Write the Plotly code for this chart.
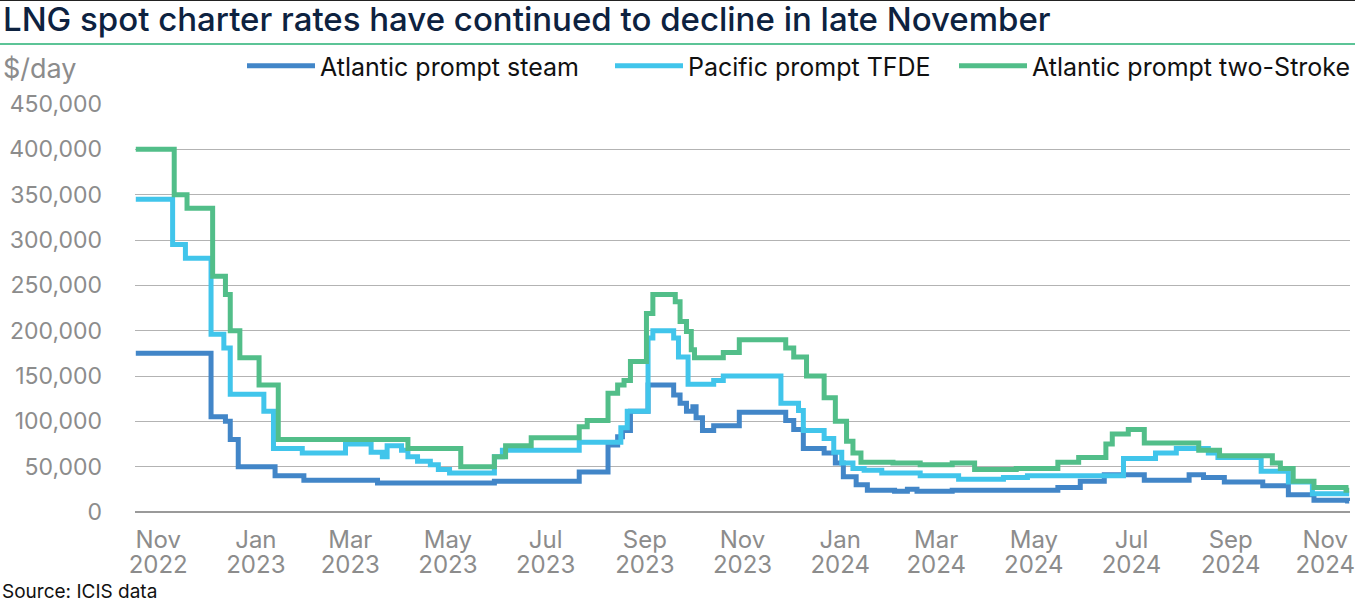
import plotly.graph_objects as go

# ---------------- data ----------------
steam_dates = ["2022-11-01", "2022-12-18", "2022-12-27", "2022-12-30", "2023-01-04", "2023-01-27",
               "2023-02-14", "2023-04-01", "2023-06-13", "2023-08-05", "2023-08-23", "2023-08-29",
               "2023-09-01", "2023-09-06", "2023-09-17", "2023-10-03", "2023-10-07", "2023-10-11",
               "2023-10-15", "2023-10-17", "2023-10-21", "2023-10-28", "2023-11-13", "2023-12-12",
               "2023-12-17", "2023-12-23", "2024-01-05", "2024-01-12", "2024-01-17", "2024-01-25",
               "2024-02-01", "2024-02-18", "2024-02-26", "2024-03-03", "2024-03-25", "2024-05-30",
               "2024-06-13", "2024-06-28", "2024-07-23", "2024-08-20", "2024-08-29", "2024-09-11",
               "2024-10-05", "2024-10-21", "2024-11-06", "2024-11-27", "2024-11-28"]
steam_vals = [175000, 105000, 100000, 80000, 50000, 40000,
              35000, 32000, 34000, 44000, 74000, 83000,
              90000, 111000, 140000, 129000, 120000, 111000,
              116000, 104000, 90000, 95000, 110000, 101000,
              91000, 70000, 65000, 54000, 39000, 30000,
              24000, 23000, 25000, 23000, 24000, 27000,
              34000, 41000, 35000, 41000, 38000, 33000,
              29000, 19000, 13000, 12000, 12000]

tfde_dates = ["2022-11-01", "2022-11-24", "2022-12-02", "2022-12-18", "2022-12-26", "2022-12-30",
              "2023-01-20", "2023-01-26", "2023-02-13", "2023-03-12", "2023-03-28", "2023-04-04",
              "2023-04-07", "2023-04-16", "2023-04-20", "2023-04-26", "2023-05-04", "2023-05-09",
              "2023-05-16", "2023-06-13", "2023-06-18", "2023-08-05", "2023-08-31", "2023-09-04",
              "2023-09-17", "2023-09-20", "2023-10-03", "2023-10-06", "2023-10-12", "2023-10-28",
              "2023-11-03", "2023-12-09", "2023-12-20", "2023-12-23", "2024-01-05", "2024-01-11",
              "2024-01-16", "2024-01-23", "2024-01-30", "2024-02-10", "2024-03-05", "2024-03-29",
              "2024-04-26", "2024-05-11", "2024-07-10", "2024-07-30", "2024-08-12", "2024-09-01",
              "2024-09-07", "2024-10-04", "2024-10-21", "2024-11-05", "2024-11-28"]
tfde_vals = [345000, 295000, 280000, 196000, 181000, 130000,
             111000, 70000, 65000, 75000, 66000, 61000,
             73000, 68000, 61000, 56000, 52000, 47000,
             43000, 61000, 68000, 77000, 93000, 111000,
             192000, 200000, 192000, 171000, 141000, 145000,
             150000, 120000, 112000, 90000, 81000, 66000,
             54000, 48000, 46000, 43000, 40000, 36000,
             38000, 40000, 59000, 65000, 70000, 65000,
             60000, 45000, 33000, 20000, 20000]

twostroke_dates = ["2022-11-01", "2022-11-25", "2022-12-03", "2022-12-19", "2022-12-27", "2022-12-30",
                   "2023-01-05", "2023-01-17", "2023-01-29", "2023-04-20", "2023-05-23", "2023-06-13",
                   "2023-06-20", "2023-07-06", "2023-08-05", "2023-08-10", "2023-08-23", "2023-08-29",
                   "2023-09-02", "2023-09-06", "2023-09-16", "2023-09-20", "2023-10-04", "2023-10-07",
                   "2023-10-11", "2023-10-14", "2023-10-16", "2023-11-03", "2023-11-13", "2023-12-12",
                   "2023-12-17", "2023-12-25", "2024-01-05", "2024-01-12", "2024-01-19", "2024-01-23",
                   "2024-01-28", "2024-02-17", "2024-03-05", "2024-03-25", "2024-04-08", "2024-05-04",
                   "2024-05-30", "2024-06-12", "2024-06-29", "2024-07-03", "2024-07-13", "2024-07-23",
                   "2024-08-26", "2024-09-08", "2024-10-11", "2024-10-16", "2024-10-24", "2024-11-06",
                   "2024-11-26", "2024-11-28"]
twostroke_vals = [400000, 350000, 335000, 260000, 240000, 200000,
                  170000, 140000, 80000, 70000, 50000, 61000,
                  73000, 82000, 94000, 101000, 131000, 140000,
                  145000, 166000, 219000, 240000, 232000, 210000,
                  199000, 179000, 170000, 176000, 190000, 181000,
                  171000, 150000, 126000, 100000, 78000, 65000,
                  55000, 54000, 52000, 54000, 47000, 48000,
                  55000, 60000, 75000, 86000, 91000, 76000,
                  68000, 62000, 54000, 48000, 34000, 27000,
                  24000, 24000]

series_names = ["Atlantic prompt steam", "Pacific prompt TFDE", "Atlantic prompt two-Stroke"]
series_colors = ["#4286c8", "#41c5eb", "#52be89"]

y_ticks = [0, 50000, 100000, 150000, 200000, 250000, 300000, 350000, 400000, 450000]
x_tick_dates = ["2022-11-15", "2023-01-15", "2023-03-15", "2023-05-15", "2023-07-15", "2023-09-15",
                "2023-11-15", "2024-01-15", "2024-03-15", "2024-05-15", "2024-07-15", "2024-09-15",
                "2024-11-13"]
x_tick_months = ["Nov", "Jan", "Mar", "May", "Jul", "Sep", "Nov", "Jan", "Mar", "May", "Jul", "Sep", "Nov"]
x_tick_years = ["2022", "2023", "2023", "2023", "2023", "2023", "2023", "2024", "2024", "2024", "2024",
                "2024", "2024"]

title_text = "LNG spot charter rates have continued to decline in late November"
unit_text = "$/day"
source_text = "Source: ICIS data"

# ---------------- figure ----------------
W, H = 1355, 602
L, R, T, B = 135, 5, 104, 90
pw, ph = W - L - R, H - T - B
X_RANGE = ["2022-10-31 12:00", "2024-11-28 12:00"]


def cx(x):  # container fraction from pixel x
    return x / W


def cy(y):  # container fraction from pixel y (top-down)
    return 1 - y / H


FONT = "Inter"
GRAY = "#8c8c8c"

fig = go.Figure()
all_series = [(steam_dates, steam_vals), (tfde_dates, tfde_vals), (twostroke_dates, twostroke_vals)]
legend_ids = ["legend", "legend2", "legend3"]
x_axes = ["x", "x", "x2"]  # two-stroke drawn on the overlaid axis that carries the year labels
for (d, v), name, col, lg, xa in zip(all_series, series_names, series_colors, legend_ids, x_axes):
    fig.add_trace(go.Scatter(x=d, y=v, name=name, mode="lines", line_shape="hv", xaxis=xa, yaxis="y",
                             line=dict(color=col, width=5), legend=lg, showlegend=True,
                             hovertemplate="%{x|%d %b %Y}: %{y:,}<extra>" + name + "</extra>"))

leg_common = dict(orientation="h", xanchor="left", yanchor="middle", xref="container",
                  yref="container", y=cy(66),
                  font=dict(family=FONT, size=25, color="#111111"), bgcolor="rgba(0,0,0,0)",
                  itemwidth=68)
fig.update_layout(
    width=W, height=H,
    showlegend=True,
    margin=dict(l=L, r=R, t=T, b=B, pad=0, autoexpand=False),
    paper_bgcolor="white", plot_bgcolor="white",
    font=dict(family=FONT, color=GRAY),
    title=dict(text=title_text, x=cx(3), xanchor="left", y=cy(19), yanchor="middle",
               xref="container", yref="container",
               font=dict(family=FONT, size=33, color="#0d2240", weight=500)),
    legend=dict(leg_common, x=cx(242)),
    legend2=dict(leg_common, x=cx(610)),
    legend3=dict(leg_common, x=cx(954)),
    xaxis=dict(type="date", range=X_RANGE, automargin=False,
               tickvals=x_tick_dates, ticktext=x_tick_months, showgrid=False, zeroline=False,
               showline=False, ticks="", ticklabelstandoff=11, ticklabeloverflow="allow",
               tickfont=dict(family=FONT, size=24, color=GRAY)),
    xaxis2=dict(type="date", range=X_RANGE, matches="x", overlaying="x", anchor="y", side="bottom",
                automargin=False, tickvals=x_tick_dates, ticktext=x_tick_years, showgrid=False,
                zeroline=False, showline=False, ticks="", ticklabelstandoff=36,
                ticklabeloverflow="allow",
                tickfont=dict(family=FONT, size=24, color=GRAY)),
    yaxis=dict(range=[0, 450000], tickvals=y_ticks, tickformat=",", showgrid=True, automargin=False,
               gridcolor="#b3b3b3", gridwidth=1.3, zeroline=True, zerolinecolor="#9a9a9a",
               zerolinewidth=2, showline=False, ticks="", ticklabelstandoff=32,
               tickfont=dict(family=FONT, size=23, color=GRAY)),
    shapes=[
        dict(type="line", xref="paper", yref="paper", x0=-L / pw, x1=(W - L) / pw,
             y0=(H - B - 0.5) / ph, y1=(H - B - 0.5) / ph, line=dict(color="#222222", width=1)),
        dict(type="line", xref="paper", yref="paper", x0=-L / pw, x1=(W - L) / pw,
             y0=(H - B - 44) / ph, y1=(H - B - 44) / ph, line=dict(color="#5cc497", width=2)),
    ],
    annotations=[
        dict(text=unit_text, xref="paper", yref="paper", x=(1 - L) / pw, y=(H - B - 68) / ph,
             xanchor="left", yanchor="middle", showarrow=False,
             font=dict(family=FONT, size=27, color=GRAY)),
        dict(text=source_text, xref="paper", yref="paper", x=-L / pw, y=(H - B - 591) / ph,
             xanchor="left", yanchor="middle", showarrow=False,
             font=dict(family=FONT, size=19, color="#111111")),
    ],
)

fig.write_html("out.html", config={"displayModeBar": False},
               post_script="document.body.style.margin='0';")
